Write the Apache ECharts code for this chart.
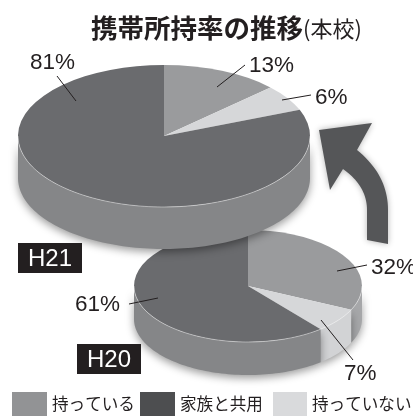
<!DOCTYPE html>
<html>
<head>
<meta charset="utf-8">
<style>
  html, body { margin: 0; padding: 0; background: #ffffff; }
  #chart { width: 413px; height: 417px; overflow: hidden; }
</style>
</head>
<body>
<div id="chart"></div>
<script src="https://cdn.jsdelivr.net/npm/echarts@6/dist/echarts.min.js"></script>
<script>
const years = ["H21", "H20"];
const categories = ["持っている", "持っていない", "家族と共用"];
const ownShare = [13, 32];
const noneShare = [6, 7];
const familyShare = [81, 61];

const shares = [ownShare, noneShare, familyShare];

// one box per year, big pie sits on top
const pies = [
  { cx: 164, cy: 136, rx: 146, ry: 71, depth: 42, z: 20 },
  { cx: 248, cy: 286, rx: 114, ry: 56, depth: 33, z: 10 }
];
const topColors = ["#9a9b9d", "#d6d7d9", "#6a6b6e"];
const wallColors = ["#a6a7a9", "#d2d3d5", "#858688"];
const legendColors = ["#929395", "#4d4e50", "#d9dadc"];
const latin = "'Liberation Sans', Arial, sans-serif";
const cjk = "'Noto Sans CJK JP', sans-serif";

// leader line and label spot per [category][year]
const leaders = [
  [{ line: [217, 87, 245, 65], text: [249, 66] }, { line: [337, 271, 367, 265], text: [371, 268] }],
  [{ line: [282, 100, 311, 95], text: [315, 98] }, { line: [321, 320, 353, 360], text: [344, 374] }],
  [{ line: [57, 76, 76, 101], text: [30, 63] }, { line: [129, 304, 158, 298], text: [75, 305] }]
];

function wallPoints(p, from, to) {
  const top = [];
  const steps = Math.max(2, Math.ceil((to - from) / 0.03));
  for (let i = 0; i <= steps; i++) {
    const t = from + (to - from) * i / steps;
    top.push([p.cx + p.rx * Math.sin(t), p.cy - p.ry * Math.cos(t)]);
  }
  const bottom = top.map(q => [q[0], q[1] + p.depth]).reverse();
  return { outline: top.concat(bottom), rim: top };
}

function renderSlice(catIndex) {
  return function (params, api) {
    const yearIndex = api.value(0);
    const share = api.value(1);
    const p = pies[yearIndex];
    let before = 0;
    for (let i = 0; i < catIndex; i++) before += shares[i][yearIndex];
    const a0 = before / 100 * Math.PI * 2;
    const a1 = (before + share) / 100 * Math.PI * 2;
    const children = [];

    // side wall, only the front half shows
    const from = Math.max(a0, Math.PI / 2);
    const to = Math.min(a1, Math.PI * 1.5);
    if (to > from) {
      const wall = wallPoints(p, from, to);
      children.push({
        type: "polygon",
        z2: p.z,
        shape: { points: wall.outline },
        style: {
          fill: wallColors[catIndex],
          shadowBlur: 9,
          shadowColor: "rgba(0,0,0,0.4)",
          shadowOffsetY: 3
        }
      });
      children.push({
        type: "polyline",
        z2: p.z + 2,
        shape: { points: wall.rim },
        style: { fill: null, stroke: "rgba(255,255,255,0.6)", lineWidth: 0.7 }
      });
    }

    children.push({
      type: "sector",
      z2: p.z + 1,
      x: p.cx,
      y: p.cy,
      scaleY: p.ry / p.rx,
      shape: {
        cx: 0,
        cy: 0,
        r0: 0,
        r: p.rx,
        startAngle: a0 - Math.PI / 2,
        endAngle: a1 - Math.PI / 2,
        clockwise: true
      },
      style: { fill: topColors[catIndex] }
    });

    const lead = leaders[catIndex][yearIndex];
    children.push({
      type: "line",
      z2: 40,
      shape: { x1: lead.line[0], y1: lead.line[1], x2: lead.line[2], y2: lead.line[3] },
      style: { stroke: "#231f20", lineWidth: 1 }
    });
    children.push({
      type: "text",
      z2: 40,
      x: lead.text[0],
      y: lead.text[1],
      style: {
        text: share + "%",
        font: "22.5px " + latin,
        fill: "#231f20",
        align: "left",
        verticalAlign: "middle"
      }
    });
    return { type: "group", children: children };
  };
}

const series = categories.map((name, c) => ({
  name: name,
  type: "custom",
  coordinateSystem: "none",
  silent: true,
  animation: false,
  renderItem: renderSlice(c),
  data: years.map((y, i) => [i, shares[c][i]])
}));

// swatch lefts in the order the legend reads: own, family, none
const legendOrder = [0, 2, 1];
const legendLefts = [12, 140, 273];
const legend = legendOrder.map((c, i) => ({
  left: legendLefts[i],
  top: 392,
  padding: 0,
  itemWidth: i === 2 ? 34 : 35,
  itemHeight: 24,
  itemGap: 0,
  selectedMode: false,
  icon: "rect",
  data: [{ name: categories[c], itemStyle: { color: legendColors[i] } }],
  textStyle: { fontFamily: cjk, fontSize: 16.6, color: "#231f20" }
}));

const badgeSpots = [[18, 243], [77, 344]];
const badges = years.flatMap((y, i) => [
  { type: "rect", z: 50, shape: { x: badgeSpots[i][0], y: badgeSpots[i][1], width: 64, height: 30 }, style: { fill: "#231f20" } },
  {
    type: "text", z: 51, x: badgeSpots[i][0] + 32, y: badgeSpots[i][1] + 16,
    style: { text: y, font: "24px " + latin, fill: "#ffffff", align: "center", verticalAlign: "middle" }
  }
]);

// the curved arrow between the two pies
function quad(a, b, c) {
  const out = [];
  for (let i = 0; i <= 20; i++) {
    const t = i / 20;
    out.push([
      (1 - t) * (1 - t) * a[0] + 2 * t * (1 - t) * b[0] + t * t * c[0],
      (1 - t) * (1 - t) * a[1] + 2 * t * (1 - t) * b[1] + t * t * c[1]
    ]);
  }
  return out;
}
const arrowPoints = [[319, 130], [372, 123]]
  .concat(quad([357, 150], [388, 175], [388, 210]))
  .concat([[388, 244], [367, 240]])
  .concat(quad([367, 210], [367, 186], [343, 169]))
  .concat([[330, 190]]);

const chart = echarts.init(document.getElementById("chart"), null, { renderer: "canvas" });
chart.setOption({
  backgroundColor: "#ffffff",
  animation: false,
  title: {
    left: 91,
    top: 15,
    padding: 0,
    text: "{a|携帯所持率の推移}{b|(本校)}",
    textStyle: {
      fontWeight: "normal",
      rich: {
        a: { fontFamily: cjk, fontSize: 26.5, fontWeight: "bold", color: "#231f20" },
        b: { fontFamily: cjk, fontSize: 22, fontWeight: "normal", color: "#231f20" }
      }
    }
  },
  legend: legend,
  series: series,
  graphic: badges.concat([
    {
      type: "polygon",
      z: 30,
      shape: { points: arrowPoints },
      style: { fill: "#555658", shadowBlur: 6, shadowColor: "rgba(0,0,0,0.3)" }
    }
  ])
});
</script>
</body>
</html>
